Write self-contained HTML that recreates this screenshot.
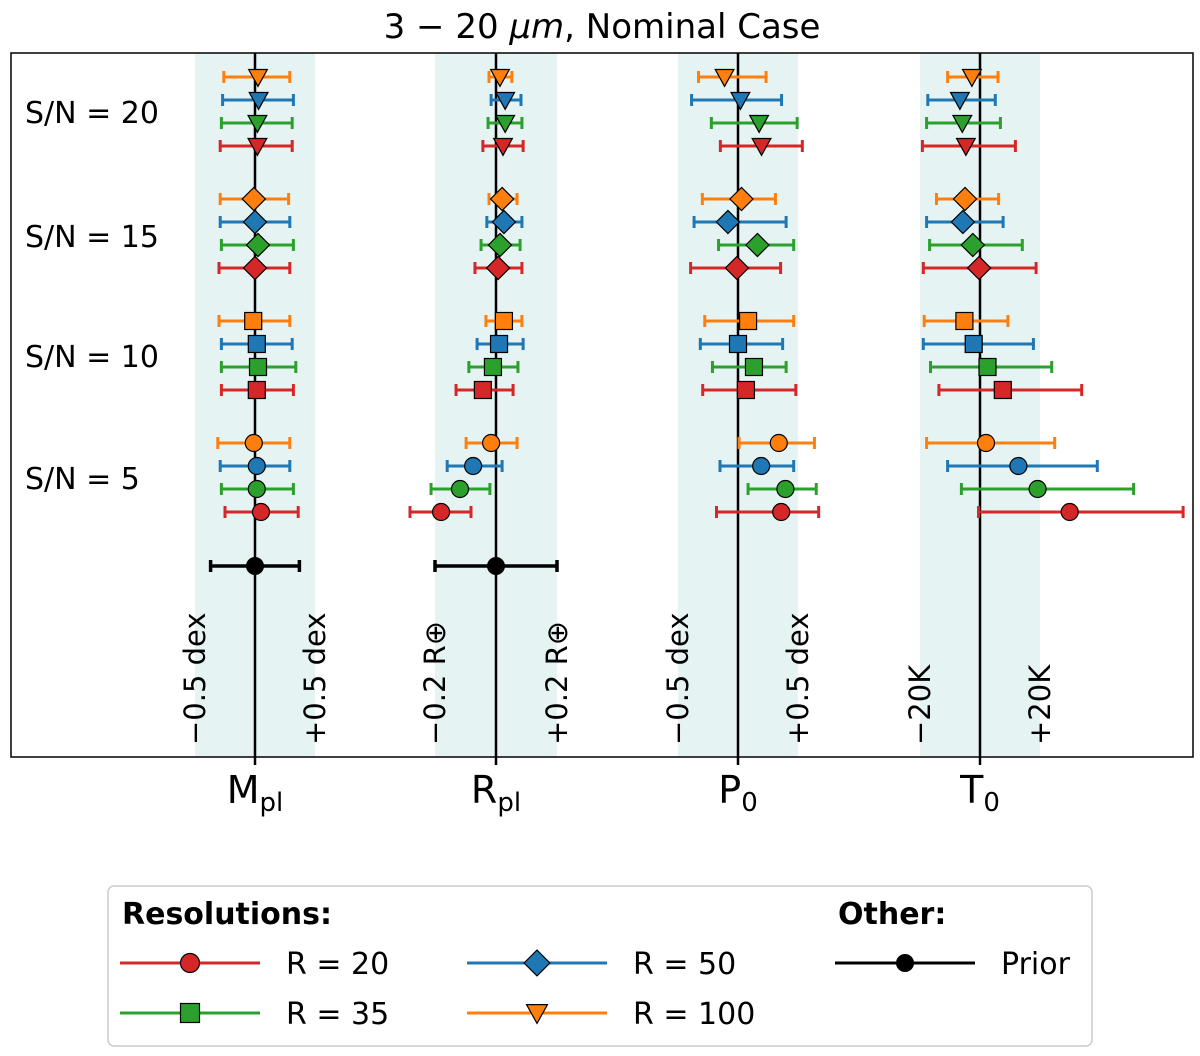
<!DOCTYPE html>
<html><head><meta charset="utf-8"><style>
html,body{margin:0;padding:0;background:#fff;}
svg{display:block;font-family:"DejaVu Sans","Liberation Sans",sans-serif;}
</style></head><body>
<svg id="chart" width="1200" height="1056" viewBox="0 0 1200 1056" xmlns="http://www.w3.org/2000/svg">
<text x="602" y="38" font-size="34" text-anchor="middle">3 − 20 <tspan font-style="italic">μm</tspan>, Nominal Case</text>
<g id="bands"></g>
<g id="marks"></g>
<rect x="11" y="53" width="1182" height="704" fill="none" stroke="#000" stroke-width="1.5"/>
<g font-size="30">
<text x="25" y="123">S/N = 20</text>
<text x="25" y="247">S/N = 15</text>
<text x="25" y="367">S/N = 10</text>
<text x="25" y="489">S/N = 5</text>
</g>
<g font-size="38" text-anchor="middle">
<text x="255" y="803">M<tspan font-size="26" dy="8">pl</tspan></text>
<text x="496" y="803">R<tspan font-size="26" dy="8">pl</tspan></text>
<text x="738" y="803">P<tspan font-size="26" dy="8">0</tspan></text>
<text x="980" y="803">T<tspan font-size="26" dy="8">0</tspan></text>
</g>
<g id="legend">
<rect x="108" y="886" width="984" height="160" rx="6" fill="#fff" stroke="#ccc" stroke-width="1.5"/>
<text x="122" y="924" font-size="30" font-weight="bold">Resolutions:</text>
<text x="838" y="924" font-size="30" font-weight="bold">Other:</text>
<g font-size="30">
<text x="286" y="974">R = 20</text>
<text x="286" y="1024">R = 35</text>
<text x="633" y="974">R = 50</text>
<text x="633" y="1024">R = 100</text>
<text x="1001" y="974">Prior</text>
</g>
</g>
</svg>
<script>
const NS="http://www.w3.org/2000/svg";
// Data: rows ordered [S/N20, S/N15, S/N10, S/N5], each with [R100(orange), R50(blue), R35(green), R20(red)]
const snLevels=["S/N = 20","S/N = 15","S/N = 10","S/N = 5"];
const resolutions=["R = 100","R = 50","R = 35","R = 20"];
const mplVal=[[.025,.03,.02,.02],[-.01,0,.025,0],[-.015,.015,.025,.015],[-.01,.015,.015,.05]];
const mplLo=[[-.26,-.27,-.28,-.29],[-.29,-.29,-.28,-.3],[-.3,-.28,-.28,-.28],[-.31,-.29,-.28,-.25]];
const mplHi=[[.29,.32,.31,.31],[.28,.29,.32,.29],[.29,.31,.34,.32],[.29,.29,.32,.36]];
const rplVal=[[.013,.03,.03,.023],[.02,.026,.013,.007],[.026,.01,-.01,-.043],[-.016,-.075,-.118,-.18]];
const rplLo=[[-.023,-.016,-.026,-.043],[-.023,-.03,-.049,-.069],[-.033,-.062,-.089,-.131],[-.098,-.16,-.213,-.282]];
const rplHi=[[.052,.082,.085,.089],[.069,.085,.079,.085],[.085,.089,.072,.056],[.069,.02,-.02,-.082]];
const p0Val=[[-.112,.02,.176,.196],[.029,-.084,.162,-.009],[.084,0,.133,.066],[.34,.193,.395,.36]];
const p0Lo=[[-.329,-.387,-.222,-.147],[-.297,-.366,-.162,-.395],[-.277,-.314,-.213,-.294],[.009,-.15,.084,-.179]];
const p0Hi=[[.234,.363,.493,.536],[.312,.401,.464,.355],[.464,.372,.401,.482],[.637,.464,.652,.672]];
const t0Val=[[-2.7,-6.7,-5.9,-4.7],[-5,-5.7,-2.4,-.3],[-5.2,-2.1,2.5,7.6],[2,12.8,19.2,29.9]];
const t0Lo=[[-10.8,-17.4,-17.8,-19.2],[-14.5,-17.8,-16.8,-18.9],[-18.6,-18.9,-16.5,-13.7],[-17.8,-10.8,-6.2,-.5]];
const t0Hi=[[6,5.1,6.8,11.8],[6.2,7.7,14.1,18.7],[9.3,17.8,23.9,33.9],[24.9,39.1,51.2,67.7]];
// Prior (only Mpl and Rpl)
const priorVal=[0,0];
const priorLo=[-.37,-.2];
const priorHi=[.37,.2];
const bandHalf=[.5,.2,.5,20];
const bandLabelsL=["−0.5 dex","−0.2 R⊕","−0.5 dex","−20K"];
const bandLabelsR=["+0.5 dex","+0.2 R⊕","+0.5 dex","+20K"];

const cols=[{c:255,s:120},{c:496,s:305},{c:738,s:120},{c:980,s:3}];
const vals=[mplVal,rplVal,p0Val,t0Val],los=[mplLo,rplLo,p0Lo,t0Lo],his=[mplHi,rplHi,p0Hi,t0Hi];
const colors=["#ff7f0e","#1f77b4","#2ca02c","#d62728"];
const rowShapes=["tri","diamond","square","circle"];
const xs=(p,v)=>cols[p].c+v*cols[p].s;
const ys=(g,k)=>77+g*122+k*23;
const priorY=566;
function el(tag,attrs,parent){const e=document.createElementNS(NS,tag);for(const k in attrs)e.setAttribute(k,attrs[k]);parent.appendChild(e);return e;}
const bands=document.getElementById('bands'),marks=document.getElementById('marks');
for(let p=0;p<4;p++){
  const x0=xs(p,-bandHalf[p]),x1=xs(p,bandHalf[p]);
  const r=el('rect',{x:x0,y:53,width:x1-x0,height:704,fill:'#e5f3f2'},bands);
  
  
  const ln=el('line',{x1:cols[p].c,x2:cols[p].c,y1:53,y2:765,stroke:'#000','stroke-width':2.5},bands);
  
  
  [[x0,bandLabelsL[p]],[x1,bandLabelsR[p]]].forEach(([bx,t])=>{
    const tx=el('text',{transform:`translate(${bx+10},745) rotate(-90)`,'font-size':29},bands);
    tx.textContent=t;
    
    
  });
}
function marker(shape,x,y,color,parent,sz){
  let m;const st={fill:color,stroke:'#000','stroke-width':1.2};
  if(shape==='circle')m=el('circle',Object.assign({cx:x,cy:y,r:sz*0.5},st),parent);
  else if(shape==='square')m=el('rect',Object.assign({x:x-sz/2,y:y-sz/2,width:sz,height:sz},st),parent);
  else if(shape==='diamond'){const d=sz*0.68;m=el('polygon',Object.assign({points:`${x},${y-d} ${x+d},${y} ${x},${y+d} ${x-d},${y}`},st),parent);}
  else {const h=sz*0.55;m=el('polygon',Object.assign({points:`${x-h},${y-h*0.8} ${x+h},${y-h*0.8} ${x},${y+h*1.0}`},st),parent);}
  return m;
}
function errbar(x0,x1,y,color,parent,w){
  const g=el('g',{stroke:color,'stroke-width':w},parent);
  el('line',{x1:x0,x2:x1,y1:y,y2:y},g);
  el('line',{x1:x0,x2:x0,y1:y-6,y2:y+6},g);
  el('line',{x1:x1,x2:x1,y1:y-6,y2:y+6},g);
  return g;
}
for(let p=0;p<4;p++){
  for(let g=0;g<4;g++)for(let k=0;k<4;k++){
    const y=ys(g,k);
    const grp=el('g',{},marks);
    
    
    errbar(xs(p,los[p][g][k]),xs(p,his[p][g][k]),y,colors[k],grp,3);
    marker(rowShapes[g],xs(p,vals[p][g][k]),y,colors[k],grp,17);
  }
}
for(let p=0;p<priorVal.length;p++){
  const pg=el('g',{},marks);
  
  
  errbar(xs(p,priorLo[p]),xs(p,priorHi[p]),priorY,'#000',pg,3.5);
  el('circle',{cx:xs(p,priorVal[p]),cy:priorY,r:9,fill:'#000'},pg);
}
const leg=document.getElementById('legend');
const legItems=[[120,963,3,"circle"],[120,1013,2,"square"],[467,963,1,"diamond"],[467,1013,0,"tri"]];
legItems.forEach(([x,y,k,sh])=>{
  const g=el('g',{},leg);
  
  
  el('line',{x1:x,x2:x+140,y1:y,y2:y,stroke:colors[k],'stroke-width':3},g);
  marker(sh,x+70,y,colors[k],g,19);
});
const pl=el('g',{},leg);


el('line',{x1:835,x2:975,y1:963,y2:963,stroke:'#000','stroke-width':3},pl);
el('circle',{cx:905,cy:963,r:9,fill:'#000'},pl);
</script>
</body></html>
